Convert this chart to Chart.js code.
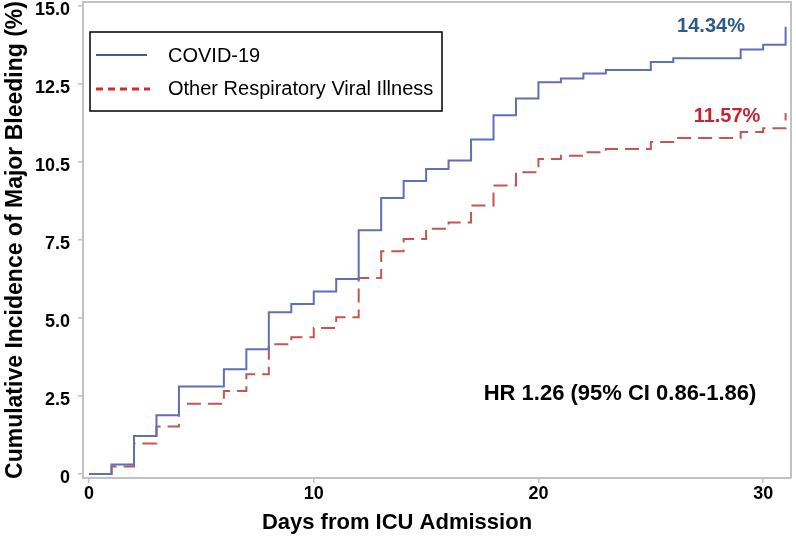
<!DOCTYPE html>
<html>
<head>
<meta charset="utf-8">
<script src="https://cdn.jsdelivr.net/npm/chart.js@4.4.1/dist/chart.umd.min.js"></script>
<style>
  html, body { margin: 0; padding: 0; background: #fff; }
  canvas { display: block; }
</style>
</head>
<body>
<canvas id="kmChart" width="796" height="540"></canvas>
<script>
// step points: day at which the cumulative incidence changes
const days = [0, 1, 2, 3, 4, 6, 7, 8, 9, 10, 11, 12, 13, 14, 15, 16, 17, 18, 19, 20, 21, 22, 23, 25, 26, 29, 30, 31];
const covid = [0, 0.3, 1.22, 1.88, 2.8, 3.36, 4.0, 5.18, 5.45, 5.85, 6.25, 7.81, 8.85, 9.39, 9.78, 10.05, 10.72, 11.5, 12.04, 12.56, 12.68, 12.84, 12.95, 13.21, 13.33, 13.61, 13.76, 14.34];
const otherViral = [0, 0.24, 0.98, 1.52, 2.25, 2.66, 3.2, 4.16, 4.38, 4.68, 5.02, 6.28, 7.14, 7.53, 7.86, 8.06, 8.61, 9.25, 9.67, 10.1, 10.2, 10.31, 10.42, 10.64, 10.77, 10.96, 11.08, 11.57];
const seriesNames = ['COVID-19', 'Other Respiratory Viral Illness'];
const endLabels = ['14.34%', '11.57%'];
const hrText = 'HR 1.26 (95% CI 0.86-1.86)';

const xTickValues = [0, 10, 20, 30];
const yTickValues = [0, 2.5, 5, 7.5, 10, 12.5, 15];
const yTickLabels = ['0', '2.5', '5.0', '7.5', '10.5', '12.5', '15.0'];

const FONT = "'Liberation Sans', Arial, sans-serif";
const axisGrey = '#c2c2c2';

const toPoints = (vals) => days.map((d, i) => ({ x: d, y: vals[i] }));

// frame, legend box and text annotations
const decorPlugin = {
    id: 'decor',
    afterDraw(chart) {
        const ctx = chart.ctx;
        const a = chart.chartArea;
        ctx.save();

        // top and right frame lines
        ctx.strokeStyle = axisGrey;
        ctx.lineWidth = 2;
        ctx.beginPath();
        ctx.moveTo(a.left, a.top);
        ctx.lineTo(a.right, a.top);
        ctx.lineTo(a.right, a.bottom);
        ctx.stroke();

        // legend
        ctx.fillStyle = '#fff';
        ctx.fillRect(90, 32, 352, 79);
        ctx.strokeStyle = '#000';
        ctx.lineWidth = 1.5;
        ctx.strokeRect(90, 32, 352, 79);

        ctx.lineWidth = 2;
        ctx.strokeStyle = '#4b5b85';
        ctx.beginPath();
        ctx.moveTo(96, 55);
        ctx.lineTo(147, 55);
        ctx.stroke();

        ctx.lineWidth = 3;
        ctx.strokeStyle = '#d42b2b';
        ctx.setLineDash([7, 5]);
        ctx.beginPath();
        ctx.moveTo(96, 89);
        ctx.lineTo(150, 89);
        ctx.stroke();
        ctx.setLineDash([]);

        ctx.fillStyle = '#000';
        ctx.font = '20px ' + FONT;
        ctx.textAlign = 'left';
        ctx.textBaseline = 'middle';
        ctx.fillText(chart.data.datasets[0].label, 168, 56);
        ctx.fillText(chart.data.datasets[1].label, 168, 89);

        // end labels
        ctx.font = 'bold 20px ' + FONT;
        ctx.textAlign = 'center';
        ctx.fillStyle = '#2b5a8c';
        ctx.fillText(endLabels[0], 711, 26);
        ctx.fillStyle = '#c8232c';
        ctx.fillText(endLabels[1], 727, 116);

        // hazard ratio
        ctx.fillStyle = '#000';
        ctx.font = 'bold 22px ' + FONT;
        ctx.fillText(hrText, 620, 394);

        // x axis title
        ctx.fillText('Days from ICU Admission', 397, 523);

        ctx.restore();
    }
};

new Chart(document.getElementById('kmChart'), {
    type: 'line',
    data: {
        datasets: [
            {
                label: seriesNames[0],
                data: toPoints(covid),
                borderColor: '#5f70b6',
                borderWidth: 2,
                stepped: true,
                pointRadius: 0,
                fill: false
            },
            {
                label: seriesNames[1],
                data: toPoints(otherViral),
                borderColor: '#c4564f',
                borderWidth: 2,
                borderDash: [14, 7],
                stepped: true,
                pointRadius: 0,
                fill: false
            }
        ]
    },
    options: {
        responsive: false,
        animation: false,
        devicePixelRatio: 1,
        layout: { padding: { top: 2, right: 5, left: 0, bottom: 0 } },
        plugins: {
            legend: { display: false },
            tooltip: { enabled: false }
        },
        scales: {
            x: {
                type: 'linear',
                min: -0.27,
                max: 31.24,
                afterBuildTicks: (s) => { s.ticks = xTickValues.map(v => ({ value: v })); },
                afterFit: (s) => { s.height = 62; s.paddingLeft = 0; s.paddingRight = 0; },
                ticks: {
                    color: '#000',
                    font: { family: FONT, size: 18, weight: 'bold' },
                    padding: 0,
                    maxRotation: 0
                },
                grid: { drawOnChartArea: false, drawTicks: true, tickLength: 5, color: axisGrey, lineWidth: 1.5 },
                border: { display: true, color: axisGrey, width: 2 }
            },
            y: {
                type: 'linear',
                min: -0.13,
                max: 15.13,
                afterBuildTicks: (s) => { s.ticks = yTickValues.map(v => ({ value: v })); },
                afterFit: (s) => { s.width = 83; s.paddingTop = 0; s.paddingBottom = 0; },
                ticks: {
                    color: '#000',
                    font: { family: FONT, size: 18, weight: 'bold' },
                    padding: 8,
                    labelOffset: 4,
                    callback: (v, i) => yTickLabels[i]
                },
                grid: { drawOnChartArea: false, drawTicks: true, tickLength: 5, color: axisGrey, lineWidth: 1.5 },
                border: { display: true, color: axisGrey, width: 2 },
                title: {
                    display: true,
                    text: 'Cumulative Incidence of Major Bleeding (%)',
                    color: '#000',
                    font: { family: FONT, size: 23, weight: 'bold' },
                    padding: { top: 2, bottom: 0 }
                }
            }
        }
    },
    plugins: [decorPlugin]
});
</script>
</body>
</html>
